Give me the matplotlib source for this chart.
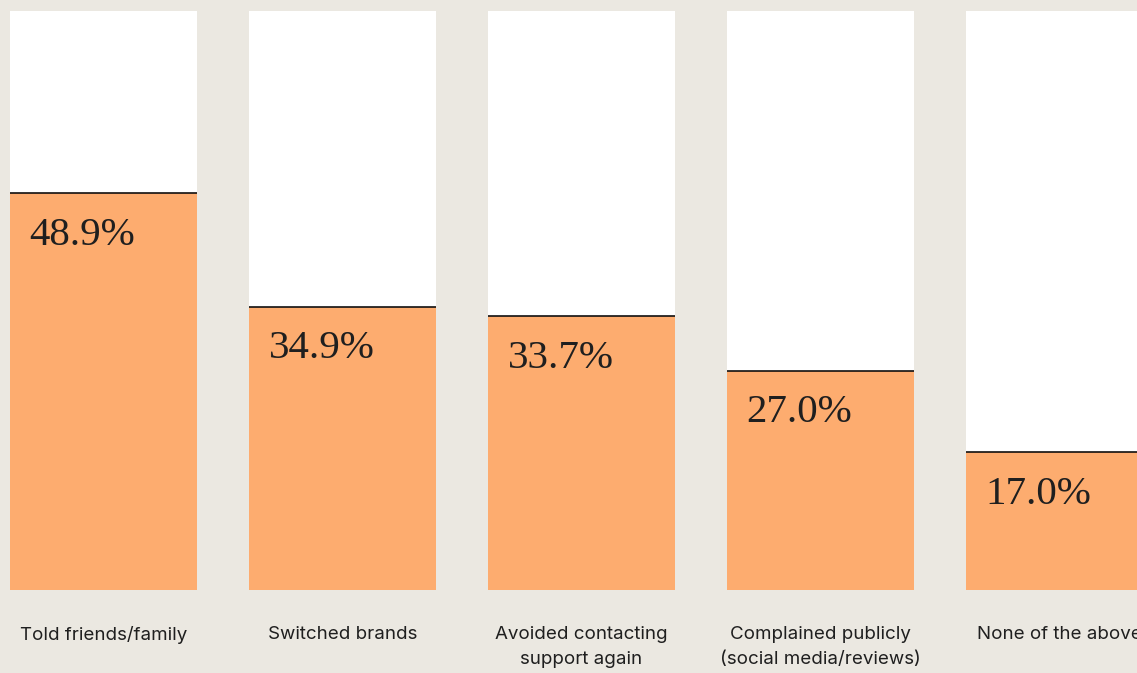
import matplotlib.pyplot as plt
import numpy as np

# -------------------------
# Data
# -------------------------
categories = ['Told friends/family', 'Switched brands', 'Avoided contacting\nsupport again',
              'Complained publicly\n(social media/reviews)', 'None of the above']
values = [48.9, 34.9, 33.7, 27.0, 17.0]

# -------------------------
# Style
# -------------------------
bg_color = '#ebe8e1'
fill_color = '#fdac6f'
track_color = '#ffffff'
text_color = '#1f1f1f'
scale_top = 71.3   # value that reaches the top of the white track
bar_width = 0.78

fig = plt.figure(figsize=(11.37, 6.73), dpi=100, facecolor=bg_color)
ax = fig.add_axes([0, 83 / 673, 1, 579 / 673])
ax.set_facecolor(bg_color)

x = np.arange(len(categories))

# white background track, then the value bar
ax.bar(x, [scale_top] * len(x), width=bar_width, color=track_color, zorder=1)
ax.bar(x, values, width=bar_width, color=fill_color, zorder=2)

# thin dark rule on top of each value bar
for xi, v in zip(x, values):
    ax.hlines(v, xi - bar_width / 2, xi + bar_width / 2, color='#111111', lw=1.2, zorder=3)
    ax.annotate(f'{v:.1f}%', xy=(xi - bar_width / 2, v), xytext=(14, -17),
                textcoords='offset points', ha='left', va='top',
                fontsize=29.5, family='Liberation Serif', color=text_color, zorder=4)

ax.set_xlim(-103.5 / 239, (1137 - 103.5) / 239)
ax.set_ylim(0, scale_top)
ax.set_xticks(x)
ax.set_xticklabels(categories, fontsize=13.5, family='Inter',
                   color=text_color, linespacing=1.6)
ax.tick_params(axis='x', length=0, pad=26)
ax.set_yticks([])
for s in ax.spines.values():
    s.set_visible(False)

fig.savefig('out.png', dpi=100, facecolor=bg_color)
